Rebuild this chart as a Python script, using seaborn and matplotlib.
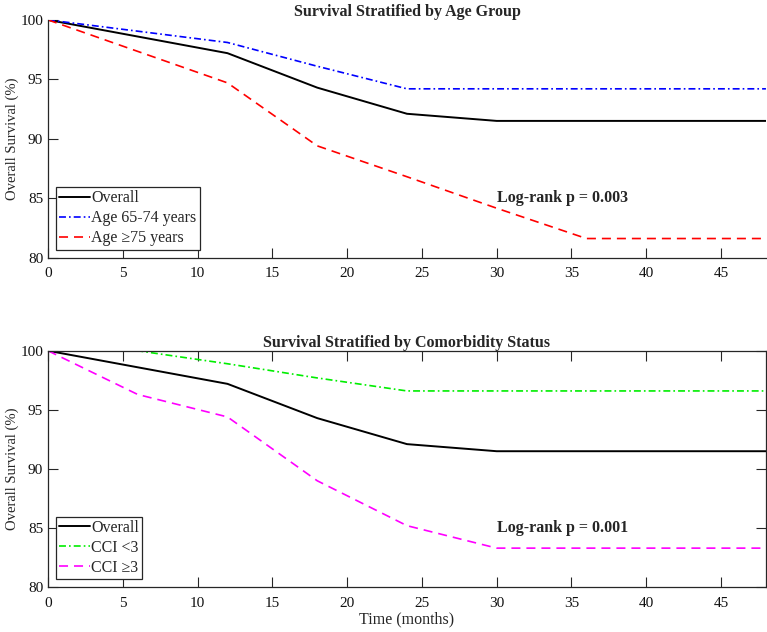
import matplotlib
matplotlib.use("Agg")
import matplotlib.pyplot as plt
import pandas as pd
import seaborn as sns

# Kaplan-Meier style survival estimates (%)
months = [0, 6, 12, 18, 24, 30, 36, 42, 48]
overall = [100, 98.6, 97.2, 94.3, 92.1, 91.5, 91.5, 91.5, 91.5]
age_65_74 = [100, 99.05, 98.1, 96.1, 94.2, 94.2, 94.2, 94.2, 94.2]
age_75 = [100, 97.35, 94.7, 89.4, 86.8, 84.15, 81.6, 81.6, 81.6]
cci_lt3 = [100, 100, 98.9, 97.7, 96.6, 96.6, 96.6, 96.6, 96.6]
cci_ge3 = [100, 96.3, 94.4, 89.0, 85.2, 83.3, 83.3, 83.3, 83.3]

dashed = (0, (6.5, 4.3))
dashdot = (0, (5, 2.2, 1.2, 2.2))

panels = [
    {
        "title": "Survival Stratified by Age Group",
        "series": [
            ("Overall", overall, "black", "-"),
            ("Age 65-74 years", age_65_74, "blue", dashdot),
            ("Age \u226575 years", age_75, "red", dashed),
        ],
        "pval": "Log-rank p = 0.003",
        "box": False,
    },
    {
        "title": "Survival Stratified by Comorbidity Status",
        "series": [
            ("Overall", overall, "black", "-"),
            ("CCI <3", cci_lt3, "#00ee00", dashdot),
            ("CCI \u22653", cci_ge3, "#ff00ff", dashed),
        ],
        "pval": "Log-rank p = 0.001",
        "box": True,
    },
]

sns.set_style("ticks")
plt.rcParams["font.family"] = ["Liberation Serif", "DejaVu Serif"]
plt.rcParams["font.size"] = 11.5
plt.rcParams["lines.scale_dashes"] = False

fig = plt.figure(figsize=(7.67, 6.32), dpi=100)
positions = [
    [0.0626, 0.5925, 0.936, 0.3760],
    [0.0626, 0.0710, 0.936, 0.3740],
]
axis_color = "#262626"
fs = 11.5

for pos, panel in zip(positions, panels):
    ax = fig.add_axes(pos)
    for label, values, color, ls in panel["series"]:
        d = pd.DataFrame({"Time": months, "Survival": values})
        sns.lineplot(
            data=d, x="Time", y="Survival", ax=ax, color=color,
            linewidth=1.4 if ls == "-" else 1.2, label=label,
        )
        ax.lines[-1].set_linestyle(ls)
    ax.set_xlim(0, 48)
    ax.set_ylim(80, 100)
    ax.set_xticks(range(0, 50, 5))
    ax.set_yticks(range(80, 101, 5))
    ax.set_title(panel["title"], fontweight="bold", fontsize=fs, pad=3)
    ax.set_ylabel("Overall Survival (%)", fontsize=10.5, labelpad=1)
    ax.set_xlabel("")
    ax.text(30, 85, panel["pval"], fontweight="bold", fontsize=fs,
            ha="left", va="center")
    for side in ["top", "right"]:
        ax.spines[side].set_visible(panel["box"])
    for s in ax.spines.values():
        s.set_color(axis_color)
        s.set_linewidth(0.9)
    ax.tick_params(direction="in", length=7, width=0.8, colors=axis_color,
                   labelcolor="#111111", labelsize=11, top=panel["box"],
                   right=panel["box"])
    ax.tick_params(axis="x", pad=7)
    ax.tick_params(axis="y", pad=3.5)
    leg = ax.legend(loc="lower left", frameon=True, fancybox=False,
                    edgecolor=axis_color, handlelength=1.9, handletextpad=0.1,
                    borderpad=0.2, labelspacing=0.25, fontsize=fs,
                    borderaxespad=0.5)
    leg.get_frame().set_linewidth(0.9)
    leg.get_frame().set_alpha(1)

ax.set_xlabel("Time (months)", fontsize=fs, labelpad=1)

fig.savefig("out.png", dpi=100)
